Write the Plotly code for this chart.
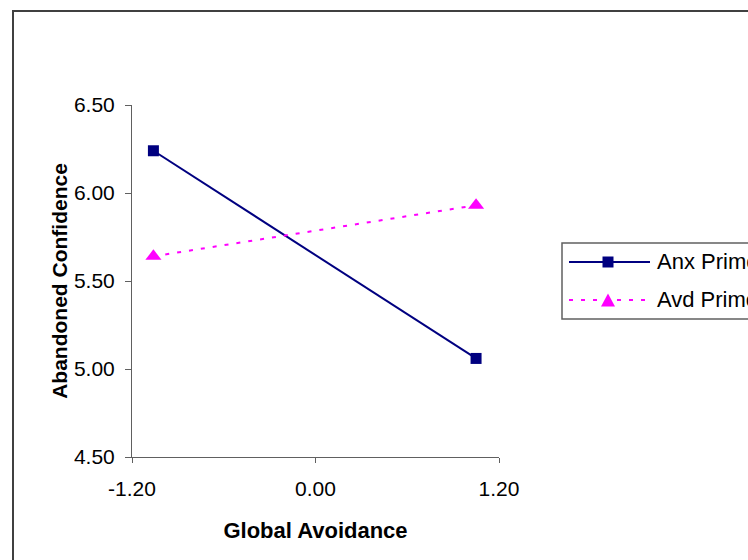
import plotly.graph_objects as go

# ---- data ----
avoidance = [-1.06, 1.05]
anx_prime = [6.24, 5.06]
avd_prime = [5.64, 5.93]
series_names = ["Anx Prime", "Avd Prime"]
x_ticks = [-1.2, 0.0, 1.2]
y_ticks = [4.5, 5.0, 5.5, 6.0, 6.5]

W, H = 748, 560
# plot area in pixels: x 132..499, y 105..457
L, T = 132, 105
R = W - 499
B = H - 457
PW, PH = W - L - R, H - T - B

def px(x):
    return (x - L) / PW

def py(y):
    return (H - B - y) / PH

FONT = "Liberation Sans, Arial, sans-serif"
NAVY = "#000080"
MAG = "#FF00FF"

fig = go.Figure()
fig.add_trace(go.Scatter(
    x=avoidance, y=anx_prime, name=series_names[0], mode="lines+markers",
    line=dict(color=NAVY, width=2),
    marker=dict(symbol="square", size=11, color=NAVY),
))
fig.add_trace(go.Scatter(
    x=avoidance, y=avd_prime, name=series_names[1], mode="lines+markers",
    line=dict(color=MAG, width=2, dash="4px,8px"),
    marker=dict(symbol="triangle-up", size=14, color=MAG),
))

shapes = []
# outer chart border (cut by the canvas at right and bottom)
shapes.append(dict(type="rect", xref="paper", yref="paper",
                   x0=px(13), x1=px(800), y0=py(11), y1=py(620),
                   line=dict(color="#404040", width=2), layer="below"))
# legend box
shapes.append(dict(type="rect", xref="paper", yref="paper",
                   x0=px(562), x1=px(800), y0=py(243), y1=py(319),
                   line=dict(color="#606060", width=1.5), fillcolor="white"))
# legend row 1
shapes.append(dict(type="line", xref="paper", yref="paper",
                   x0=px(569), x1=px(650), y0=py(262), y1=py(262),
                   line=dict(color=NAVY, width=2)))
shapes.append(dict(type="rect", xref="paper", yref="paper",
                   x0=px(602.5), x1=px(613.5), y0=py(256.5), y1=py(267.5),
                   line=dict(color=NAVY, width=0), fillcolor=NAVY))
# legend row 2
shapes.append(dict(type="line", xref="paper", yref="paper",
                   x0=px(569), x1=px(650), y0=py(300), y1=py(300),
                   line=dict(color=MAG, width=2, dash="4px,8px")))
tri = "M {},{} L {},{} L {},{} Z".format(px(601), py(306.5), px(615), py(306.5), px(608), py(293.5))
shapes.append(dict(type="path", xref="paper", yref="paper", path=tri,
                   line=dict(color=MAG, width=0), fillcolor=MAG))

annotations = [
    dict(text=series_names[0], xref="paper", yref="paper", x=px(655), y=py(261),
         xanchor="left", yanchor="middle", showarrow=False,
         font=dict(family=FONT, size=22, color="black")),
    dict(text=series_names[1], xref="paper", yref="paper", x=px(655), y=py(299),
         xanchor="left", yanchor="middle", showarrow=False,
         font=dict(family=FONT, size=22, color="black")),
]

fig.update_layout(
    width=W, height=H,
    margin=dict(l=L, r=R, t=T, b=B, autoexpand=False),
    paper_bgcolor="white", plot_bgcolor="white",
    showlegend=False,
    font=dict(family=FONT, size=21, color="black"),
    shapes=shapes, annotations=annotations,
)
fig.update_xaxes(
    range=[-1.2, 1.2], tickvals=x_ticks, ticktext=[f"{v:.2f}" for v in x_ticks],
    showgrid=False, zeroline=False, showline=True, linecolor="#606060", linewidth=1,
    ticks="outside", ticklen=5, tickcolor="#606060",
    tickfont=dict(size=21), ticklabelstandoff=8,
    title=dict(text="<b>Global Avoidance</b>", font=dict(size=22), standoff=23),
)
fig.update_yaxes(
    range=[4.5, 6.5], tickvals=y_ticks, ticktext=[f"{v:.2f}" for v in y_ticks],
    showgrid=False, zeroline=False, showline=True, linecolor="#606060", linewidth=1,
    ticks="outside", ticklen=6, tickcolor="#606060",
    tickfont=dict(size=21), ticklabelstandoff=6,
    title=dict(text="<b>Abandoned Confidence</b>", font=dict(size=21), standoff=0),
)

fig.write_html(
    "out.html",
    config={"displayModeBar": False},
    post_script="document.body.style.margin='0';"
                "document.documentElement.style.overflow='hidden';"
                "document.body.style.overflow='hidden';",
)
